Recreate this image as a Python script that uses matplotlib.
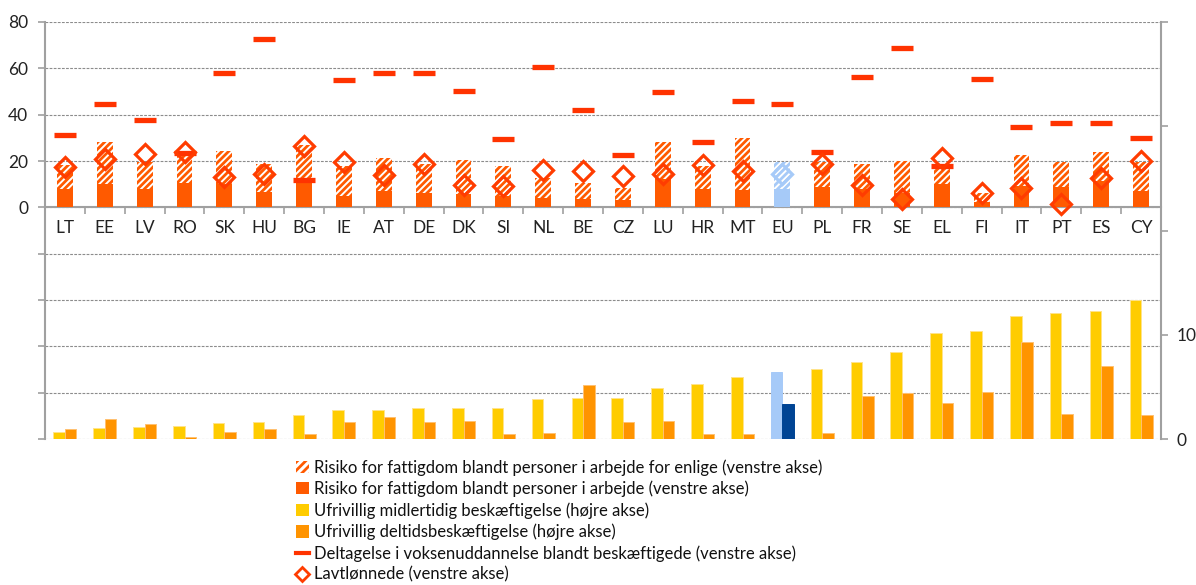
import matplotlib
matplotlib.use("Agg")
import matplotlib.pyplot as plt
from matplotlib.patches import Patch
from matplotlib.lines import Line2D
from matplotlib.ticker import FixedLocator, FuncFormatter
import numpy as np

plt.rcParams['font.family'] = ['Lato', 'DejaVu Sans']
plt.rcParams['hatch.linewidth'] = 2.0

categories = ['LT', 'EE', 'LV', 'RO', 'SK', 'HU', 'BG', 'IE', 'AT', 'DE', 'DK', 'SI', 'NL', 'BE',
              'CZ', 'LU', 'HR', 'MT', 'EU', 'PL', 'FR', 'SE', 'EL', 'FI', 'IT', 'PT', 'ES', 'CY']

# Left axis series (%)
poverty_singles = [18.2, 28.0, 19.5, 22.5, 24.5, 18.9, 26.8, 17.9, 21.5, 18.9, 20.6, 17.9, 12.5, 10.7,
                   8.2, 28.0, 18.0, 29.8, 19.7, 19.6, 18.9, 19.9, 18.5, 6.2, 22.8, 19.5, 24.1, 19.7]
poverty_working = [7.8, 10.2, 8.1, 10.5, 10.2, 6.6, 12.5, 4.8, 6.9, 6.2, 5.9, 4.9, 3.9, 3.6,
                   3.2, 12.4, 7.8, 7.4, 7.8, 8.8, 7.8, 6.0, 10.1, 2.4, 9.0, 8.8, 11.5, 6.9]
adult_education = [31.1, 44.4, 37.5, 23.6, 58.2, 72.5, 12.0, 54.8, 58.2, 58.2, 50.0, 29.3, 60.4, 41.8,
                   22.8, 49.6, 28.4, 46.1, 44.4, 24.1, 56.1, 68.6, 18.0, 55.2, 34.5, 36.6, 36.2, 30.1]
low_paid = [17.4, 21.0, 22.9, 23.9, 13.1, 14.3, 26.4, 19.6, 13.8, 18.9, 9.5, 9.2, 16.0, 15.6,
            13.5, 14.3, 18.4, 15.7, 14.6, 18.9, 9.5, 3.6, 21.5, 6.2, 8.4, 1.4, 12.8, 19.9]

# Right axis series (%)
involuntary_temporary = [0.71, 1.09, 1.19, 1.28, 1.57, 1.67, 2.31, 2.82, 2.79, 2.98, 2.98, 2.98, 3.88, 3.97,
                         3.97, 4.87, 5.29, 5.90, 6.38, 6.76, 7.37, 8.30, 10.19, 10.32, 11.79, 12.12, 12.31, 13.33]
involuntary_parttime = [0.96, 1.96, 1.47, 0.19, 0.71, 0.96, 0.48, 1.60, 2.15, 1.60, 1.76, 0.45, 0.58, 5.19,
                        1.67, 1.76, 0.48, 0.48, 3.40, 0.58, 4.17, 4.42, 3.46, 4.55, 9.26, 2.40, 6.99, 2.28]

left_ticks = [-100, -80, -60, -40, -20, 0, 20, 40, 60, 80]
right_ticks = [0, 10, 20, 30, 40]
right_labels = ['0', '10', '', '', '']

legend_labels = [
    'Risiko for fattigdom blandt personer i arbejde for enlige (venstre akse)',
    'Risiko for fattigdom blandt personer i arbejde (venstre akse)',
    'Ufrivillig midlertidig beskæftigelse (højre akse)',
    'Ufrivillig deltidsbeskæftigelse (højre akse)',
    'Deltagelse i voksenuddannelse blandt beskæftigede (venstre akse)',
    'Lavtlønnede (venstre akse)',
]

# colours
C_SOLID = '#FF5A00'
C_LINE = '#FF3300'
C_DIAMOND = '#FF3C00'
C_YELLOW = '#FFCC00'
C_ORANGE = '#FF9400'
C_EU_LIGHT = '#A6CAF8'
C_EU_DARK = '#004494'
GRAY = '#A0A0A0'

x = np.arange(len(categories))
is_eu = [c == 'EU' for c in categories]

fig = plt.figure(figsize=(11.96, 5.85), dpi=100)
ax = fig.add_axes([45 / 1196, 1 - 439 / 585, 1116 / 1196, 417 / 585])
ax2 = ax.twinx()

ax.set_xlim(-0.5, len(categories) - 0.5)
ax.set_ylim(-100, 80)
ax2.set_ylim(0, 40)

# grid
ax.set_axisbelow(True)
for v in left_ticks:
    ax.axhline(v, color='#8C8C8C', lw=0.8, ls=(0, (2.5, 1.2)), zorder=0)

# top bars (left axis)
bw = 0.40
for i in x:
    col = C_EU_LIGHT if is_eu[i] else C_SOLID
    ax.bar(i, poverty_singles[i], width=bw, facecolor='white', edgecolor=col, hatch='/////',
           lw=0, zorder=2)
    ax.bar(i, poverty_working[i], width=bw, color=col, lw=0, zorder=3)

# lines and diamonds
ax.plot(x, adult_education, ls='none', marker='_', ms=16, mew=3.8, color=C_LINE, zorder=4)
for i in x:
    col = C_EU_LIGHT if is_eu[i] else C_DIAMOND
    ax.plot(i, low_paid[i], ls='none', marker='D', ms=10.5, mfc='none', mec=col, mew=2.3, zorder=5)

# bottom bars (right axis)
bw2 = 0.29
ycol = [C_EU_LIGHT if e else C_YELLOW for e in is_eu]
ocol = [C_EU_DARK if e else C_ORANGE for e in is_eu]
ax2.bar(x - bw2 / 2, involuntary_temporary, width=bw2, color=ycol,
        edgecolor=['#FFE38A' if not e else C_EU_LIGHT for e in is_eu], lw=0.7)
ax2.bar(x + bw2 / 2, involuntary_parttime, width=bw2, color=ocol,
        edgecolor=['#FFC070' if not e else C_EU_DARK for e in is_eu], lw=0.7)

# spines
ax.spines['top'].set_visible(False)
ax2.spines['top'].set_visible(False)
ax.spines['right'].set_visible(False)
ax2.spines['left'].set_visible(False)
ax2.spines['bottom'].set_visible(False)
ax.spines['left'].set_color(GRAY)
ax.spines['left'].set_linewidth(1.5)
ax2.spines['right'].set_color(GRAY)
ax2.spines['right'].set_linewidth(1.5)
ax.spines['bottom'].set_position(('data', 0))
ax.spines['bottom'].set_color(GRAY)
ax.spines['bottom'].set_linewidth(1.5)

# x ticks
ax.set_xticks(x)
ax.set_xticklabels(categories, fontsize=12.5, color='#222222')
ax.tick_params(axis='x', which='major', length=0, pad=9)
ax.xaxis.set_minor_locator(FixedLocator(np.arange(-0.5, len(categories), 1.0)))
ax.tick_params(axis='x', which='minor', length=5, width=1.2, color=GRAY, direction='out')

# left y ticks
ax.yaxis.set_major_locator(FixedLocator(left_ticks))
ax.yaxis.set_major_formatter(FuncFormatter(lambda v, p: f'{int(v)}' if v >= 0 else ''))
ax.tick_params(axis='y', length=5, width=1.2, color=GRAY, labelsize=12.5, labelcolor='#222222', pad=7)

# right y ticks
ax2.yaxis.set_major_locator(FixedLocator(right_ticks))
ax2.set_yticklabels(right_labels)
ax2.tick_params(axis='y', length=5, width=1.2, color=GRAY, labelsize=12.5, labelcolor='#222222', pad=6)

# legend
handles = [
    Patch(facecolor='white', edgecolor=C_SOLID, hatch='////', lw=0),
    Patch(facecolor=C_SOLID, lw=0),
    Patch(facecolor=C_YELLOW, lw=0),
    Patch(facecolor=C_ORANGE, lw=0),
    Line2D([], [], color=C_LINE, lw=3),
    Line2D([], [], ls='none', marker='D', ms=7, mfc='none', mec=C_DIAMOND, mew=2),
]
fig.legend(handles, legend_labels, loc='upper left', bbox_to_anchor=(296 / 1196, 1 - 459 / 585),
           frameon=False, fontsize=12, handlelength=0.75, handleheight=0.75, handletextpad=0.35,
           labelspacing=0.3, borderpad=0, borderaxespad=0, labelcolor='#111111')

fig.savefig('out.png', dpi=100)
